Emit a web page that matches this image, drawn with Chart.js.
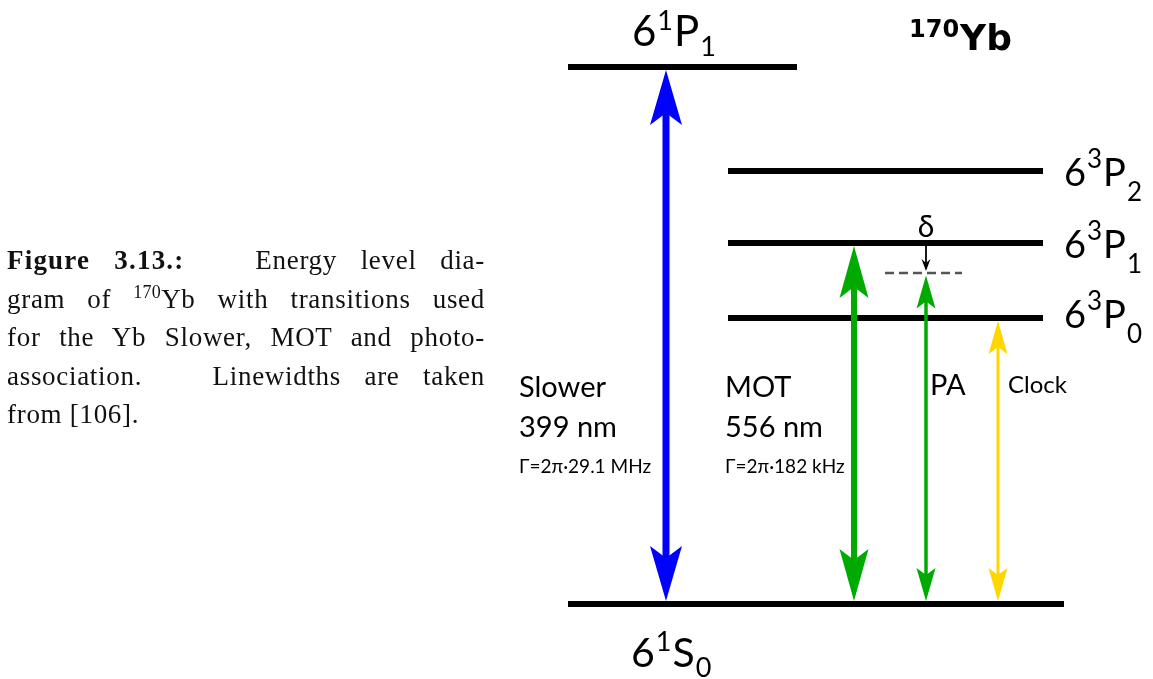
<!DOCTYPE html>
<html>
<head>
<meta charset="utf-8">
<title>170Yb energy level diagram</title>
<script src="https://cdn.jsdelivr.net/npm/chart.js@4.4.1/dist/chart.umd.min.js"></script>
<style>
  html, body { margin: 0; padding: 0; background: #fff; }
  #wrap { position: relative; width: 1153px; height: 679px; overflow: hidden; }
  #chart { position: absolute; left: 0; top: 0; }
  #caption {
    position: absolute; left: 7px; top: 241px; width: 478px;
    font-family: "Liberation Serif", "DejaVu Serif", serif; font-size: 27px; color: #111;
    letter-spacing: 0.7px;
  }
  #caption .ln { height: 38.5px; line-height: 38.5px; white-space: nowrap;
    text-align: justify; text-align-last: justify; }
  #caption .ln.last { text-align-last: left; }
  #caption b { letter-spacing: 1.2px; }
  #caption sup { font-size: 18px; line-height: 0; vertical-align: 10px; letter-spacing: 0.3px; }
</style>
</head>
<body>
<div id="wrap">
  <canvas id="chart" width="1153" height="679"></canvas>
  <div id="caption">
    <div class="ln"><b>Figure 3.13.:</b>&nbsp;&nbsp; Energy level dia-</div>
    <div class="ln">gram of <sup>170</sup>Yb with transitions used</div>
    <div class="ln">for the Yb Slower, MOT and photo-</div>
    <div class="ln">association.&nbsp;&nbsp; Linewidths are taken</div>
    <div class="ln last">from [106].</div>
  </div>
</div>
<script>
// ---- level scheme of 170Yb (energies in diagram units, ground state = 0) ----
const levelN    = ['6', '6', '6', '6', '6'];
const levelMult = ['1', '3', '3', '3', '1'];
const levelL    = ['S', 'P', 'P', 'P', 'P'];
const levelJ    = ['0', '0', '1', '2', '1'];
const levelEnergy = [0, 286, 361, 433, 537];

// ---- laser transitions (index into the level lists) ----
const transitionNames      = ['Slower', 'MOT', 'PA', 'Clock'];
const transitionWavelength = ['399 nm', '556 nm', '', ''];
const transitionLinewidth  = ['Γ=2π·29.1 MHz', 'Γ=2π·182 kHz', '', ''];
const transitionLower      = [0, 0, 0, 0];
const transitionUpper      = [4, 2, 2, 1];
const transitionDetuning   = [0, 0, 30, 0];   // PA laser red-detuned by δ from 6³P₁

const isotopeMass = '170';
const elementSymbol = 'Yb';
const detuningSymbol = 'δ';

// ---- drawing layout ----
const layout = {
  levelSpan: [[568, 1064], [728, 1043], [728, 1043], [728, 1043], [568, 797]],
  levelWidth: 6,
  arrowX: [666, 854, 926, 998],
  arrowColor: ['#0000ff', '#00aa00', '#00aa00', '#ffd700'],
  arrowShaft: [7, 6, 3.5, 3],
  arrowHeadW: [32, 29, 19, 19],
  arrowHeadL: [55, 52, 33, 33],
  arrowNotch: [12, 11, 7, 7],
  virtualSpan: [885, 962],
  termFont: 'Lato, "Open Sans", sans-serif',
  isoFont: '"DejaVu Sans", Verdana, sans-serif'
};

const levelData = levelEnergy.map((e, i) => ({
  type: 'line',
  data: [{ x: layout.levelSpan[i][0], y: e }, { x: layout.levelSpan[i][1], y: e }],
  borderColor: '#000', borderWidth: layout.levelWidth, pointRadius: 0,
  borderCapStyle: 'butt', showLine: true, fill: false
}));

// dashed virtual level reached by the detuned PA laser
const paIdx = transitionNames.indexOf('PA');
const virtualEnergy = levelEnergy[transitionUpper[paIdx]] - transitionDetuning[paIdx];
levelData.push({
  type: 'line',
  data: [{ x: layout.virtualSpan[0], y: virtualEnergy }, { x: layout.virtualSpan[1], y: virtualEnergy }],
  borderColor: '#555', borderWidth: 2.5, borderDash: [9, 5], pointRadius: 0,
  borderCapStyle: 'butt', showLine: true, fill: false
});

function head(ctx, x, yTip, dir, w, L, notch) {
  // dir = +1: tip points down, -1: tip points up
  ctx.beginPath();
  ctx.moveTo(x, yTip);
  ctx.lineTo(x + w / 2, yTip - dir * L);
  ctx.lineTo(x, yTip - dir * (L - notch));
  ctx.lineTo(x - w / 2, yTip - dir * L);
  ctx.closePath();
  ctx.fill();
}

function term(ctx, x, y, n, mult, L, J, big, small, supRaise, subDrop) {
  ctx.textAlign = 'left';
  ctx.textBaseline = 'alphabetic';
  ctx.font = big + 'px ' + layout.termFont;
  ctx.fillText(n, x, y);
  x += ctx.measureText(n).width + 1;
  ctx.font = small + 'px ' + layout.termFont;
  ctx.fillText(mult, x, y - supRaise);
  x += ctx.measureText(mult).width + 1;
  ctx.font = big + 'px ' + layout.termFont;
  ctx.fillText(L, x, y);
  x += ctx.measureText(L).width + 1;
  ctx.font = small + 'px ' + layout.termFont;
  ctx.fillText(J, x, y + subDrop);
}

const diagramPlugin = {
  id: 'diagram',
  afterDatasetsDraw(chart) {
    const ctx = chart.ctx;
    const xs = chart.scales.x, ys = chart.scales.y;
    const half = layout.levelWidth / 2;
    ctx.save();

    // transition arrows
    transitionNames.forEach((name, i) => {
      const x = xs.getPixelForValue(layout.arrowX[i]);
      const eTop = levelEnergy[transitionUpper[i]] - transitionDetuning[i];
      const yTop = ys.getPixelForValue(eTop) + (transitionDetuning[i] ? 2.5 : half);
      const yBot = ys.getPixelForValue(levelEnergy[transitionLower[i]]) - half;
      const L = layout.arrowHeadL[i], nt = layout.arrowNotch[i];
      ctx.strokeStyle = ctx.fillStyle = layout.arrowColor[i];
      ctx.lineWidth = layout.arrowShaft[i];
      ctx.beginPath();
      ctx.moveTo(x, yTop + L - nt - 1);
      ctx.lineTo(x, yBot - L + nt + 1);
      ctx.stroke();
      head(ctx, x, yTop, -1, layout.arrowHeadW[i], L, nt);
      head(ctx, x, yBot, 1, layout.arrowHeadW[i], L, nt);
    });

    // detuning arrow δ from 6³P₁ down to the virtual level
    {
      const x = xs.getPixelForValue(layout.arrowX[paIdx]);
      const y0 = ys.getPixelForValue(levelEnergy[transitionUpper[paIdx]]) + half;
      const y1 = ys.getPixelForValue(virtualEnergy) - 2;
      ctx.strokeStyle = ctx.fillStyle = '#000';
      ctx.lineWidth = 1.8;
      ctx.beginPath(); ctx.moveTo(x, y0); ctx.lineTo(x, y1 - 6); ctx.stroke();
      head(ctx, x, y1, 1, 9, 12, 4);
      ctx.font = '30px ' + layout.termFont;
      ctx.textAlign = 'center';
      ctx.textBaseline = 'alphabetic';
      ctx.fillText(detuningSymbol, x, ys.getPixelForValue(levelEnergy[transitionUpper[paIdx]]) - 6);
    }

    // level labels
    ctx.fillStyle = '#000';
    const y = (e) => ys.getPixelForValue(e);
    term(ctx, 632, y(levelEnergy[4]) - 21, levelN[4], levelMult[4], levelL[4], levelJ[4], 42, 27, 16, 10);
    term(ctx, 631, y(levelEnergy[0]) + 63, levelN[0], levelMult[0], levelL[0], levelJ[0], 41, 27, 16, 10);
    [3, 2, 1].forEach((k, j) => {
      const base = [186, 258, 328][j];
      term(ctx, 1064, base, levelN[k], levelMult[k], levelL[k], levelJ[k], 38, 26, 18, 15);
    });

    // isotope label
    ctx.textAlign = 'left';
    ctx.font = 'bold 24px ' + layout.isoFont;
    ctx.fillText(isotopeMass, 909, 37);
    const w = ctx.measureText(isotopeMass).width;
    ctx.font = 'bold 36px ' + layout.isoFont;
    ctx.fillText(elementSymbol, 909 + w + 1, 50);

    // transition labels
    ctx.font = '29px ' + layout.termFont;
    ctx.fillText(transitionNames[0], 519, 397);
    ctx.fillText(transitionWavelength[0], 519, 437);
    ctx.fillText(transitionNames[1], 725, 397);
    ctx.fillText(transitionWavelength[1], 725, 437);
    ctx.fillText(transitionNames[2], 930, 395);
    ctx.font = '19px ' + layout.termFont;
    ctx.fillText(transitionLinewidth[0], 519, 473);
    ctx.fillText(transitionLinewidth[1], 725, 473);
    ctx.font = '24px ' + layout.termFont;
    ctx.fillText(transitionNames[3], 1008, 393);

    ctx.restore();
  }
};

new Chart(document.getElementById('chart'), {
  type: 'scatter',
  data: { datasets: levelData },
  options: {
    responsive: false,
    animation: false,
    layout: { padding: 0 },
    plugins: { legend: { display: false }, tooltip: { enabled: false } },
    scales: {
      x: { type: 'linear', min: 0, max: 1153, display: false },
      y: { type: 'linear', min: -75, max: 604, display: false }
    }
  },
  plugins: [diagramPlugin]
});
</script>
</body>
</html>
